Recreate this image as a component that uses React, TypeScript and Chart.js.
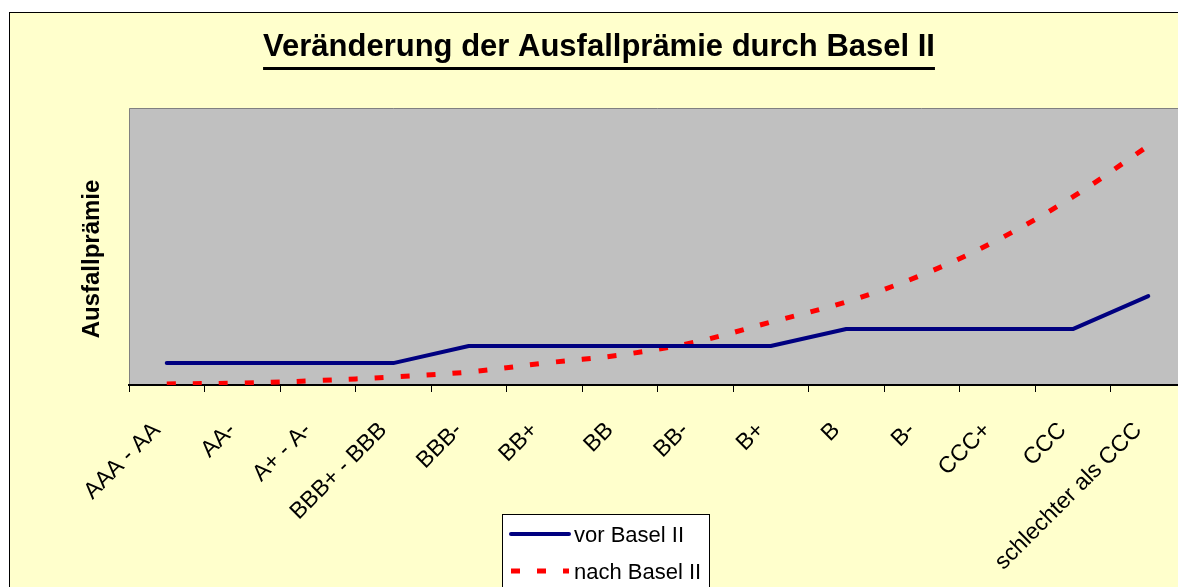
import React, { useEffect, useRef } from "react";
import { Chart, registerables } from "chart.js";

Chart.register(...registerables);

const categories = [
  "AAA - AA",
  "AA-",
  "A+ - A-",
  "BBB+ - BBB",
  "BBB-",
  "BB+",
  "BB",
  "BB-",
  "B+",
  "B",
  "B-",
  "CCC+",
  "CCC",
  "schlechter als CCC",
];
const vorBaselII = [7.9, 7.9, 7.9, 7.9, 14.1, 14.1, 14.1, 14.1, 14.1, 20.2, 20.2, 20.2, 20.2, 32.1];
const nachBaselII = [0.4, 0.7, 1.6, 2.9, 4.7, 7.9, 10.8, 15.5, 22.7, 30.0, 39.7, 52.3, 67.9, 86.3];

const seriesNames = ["vor Basel II", "nach Basel II"];
const titleText = "Veränderung der Ausfallprämie durch Basel II";
const yTitleText = "Ausfallprämie";

const FONT = 'Arial, "Liberation Sans", sans-serif';
const W = 1178;
const H = 620;

const decorPlugin = {
  id: "decor",
  beforeDraw(chart: any) {
    const { ctx, chartArea } = chart;
    ctx.save();
    ctx.fillStyle = "#C0C0C0";
    ctx.fillRect(chartArea.left, chartArea.top, chartArea.right - chartArea.left, chartArea.bottom - chartArea.top);
    ctx.strokeStyle = "#808080";
    ctx.lineWidth = 1;
    ctx.beginPath();
    ctx.moveTo(chartArea.left + 0.5, chartArea.bottom);
    ctx.lineTo(chartArea.left + 0.5, chartArea.top + 0.5);
    ctx.lineTo(chartArea.right - 0.5, chartArea.top + 0.5);
    ctx.lineTo(chartArea.right - 0.5, chartArea.bottom);
    ctx.stroke();
    ctx.restore();
  },
  afterDraw(chart: any) {
    const { ctx } = chart;
    ctx.save();
    // Title
    ctx.fillStyle = "#000";
    ctx.font = `bold 31px ${FONT}`;
    ctx.textAlign = "center";
    ctx.textBaseline = "alphabetic";
    const tx = 589;
    ctx.fillText(titleText, tx, 43);
    const tw = ctx.measureText(titleText).width;
    ctx.fillRect(tx - tw / 2, 54, tw, 3);

    // Y axis title
    ctx.save();
    ctx.translate(82, 246);
    ctx.rotate(-Math.PI / 2);
    ctx.font = `bold 24px ${FONT}`;
    ctx.textAlign = "center";
    ctx.textBaseline = "middle";
    ctx.fillText(yTitleText, 0, 0);
    ctx.restore();

    // Legend
    const ds = chart.data.datasets;
    ctx.fillStyle = "#FFFFFF";
    ctx.fillRect(492.5, 501.5, 207, 110);
    ctx.strokeStyle = "#000";
    ctx.lineWidth = 1;
    ctx.strokeRect(492.5, 501.5, 207, 110);
    const rows = [521, 558];
    ds.forEach((d: any, i: number) => {
      const y = rows[i];
      ctx.save();
      ctx.strokeStyle = d.borderColor;
      ctx.lineWidth = d.borderWidth;
      ctx.lineCap = d.borderCapStyle || "butt";
      ctx.setLineDash(d.borderDash || []);
      ctx.beginPath();
      ctx.moveTo(501, y);
      ctx.lineTo(559, y);
      ctx.stroke();
      ctx.restore();
      ctx.fillStyle = "#000";
      ctx.font = `22px ${FONT}`;
      ctx.textAlign = "left";
      ctx.textBaseline = "middle";
      ctx.fillText(d.label, 564, y + 2);
    });
    ctx.restore();
  },
};

export default function App() {
  const ref = useRef<HTMLCanvasElement | null>(null);
  useEffect(() => {
    if (!ref.current) return;
    const chart = new Chart(ref.current, {
      type: "line",
      data: {
        labels: categories,
        datasets: [
          {
            label: seriesNames[0],
            data: vorBaselII,
            borderColor: "#000080",
            backgroundColor: "#000080",
            borderWidth: 4,
            borderCapStyle: "round",
            borderJoinStyle: "round",
            pointRadius: 0,
            tension: 0,
            fill: false,
          },
          {
            label: seriesNames[1],
            data: nachBaselII,
            borderColor: "#FF0000",
            backgroundColor: "#FF0000",
            borderWidth: 5,
            borderDash: [9, 17],
            borderCapStyle: "butt",
            pointRadius: 0,
            tension: 0.35,
            fill: false,
          },
        ],
      },
      options: {
        responsive: false,
        animation: false,
        devicePixelRatio: 1,
        layout: { padding: { left: 119, right: 2, top: 95, bottom: 48 } },
        plugins: {
          legend: { display: false },
          title: { display: false },
          tooltip: { enabled: false },
        },
        scales: {
          x: {
            type: "category",
            offset: true,
            grid: {
              display: true,
              offset: true,
              drawOnChartArea: false,
              drawTicks: true,
              tickLength: 7,
              color: "#000",
              lineWidth: 1,
            },
            border: { display: true, color: "#000", width: 2 },
            ticks: {
              autoSkip: false,
              maxRotation: 45,
              minRotation: 45,
              padding: 25,
              labelOffset: -10,
              color: "#000",
              font: { family: FONT, size: 23 },
            },
            afterFit: (scale: any) => {
              scale.height = 200;
              scale.paddingLeft = 0;
              scale.paddingRight = 0;
            },
          },
          y: {
            display: false,
            min: 0,
            max: 100,
          },
        },
      },
      plugins: [decorPlugin],
    } as any);
    return () => chart.destroy();
  }, []);

  return (
    <div style={{ position: "fixed", left: 0, top: 0, width: "100vw", height: "100vh", overflow: "hidden" }}>
      <div
        style={{
          position: "absolute",
          left: 9,
          top: 12,
          width: W,
          height: H,
          border: "1px solid #000",
          background: "#FFFFCC",
        }}
      >
        <canvas ref={ref} width={W} height={H} style={{ display: "block", width: W, height: H }} />
      </div>
    </div>
  );
}
